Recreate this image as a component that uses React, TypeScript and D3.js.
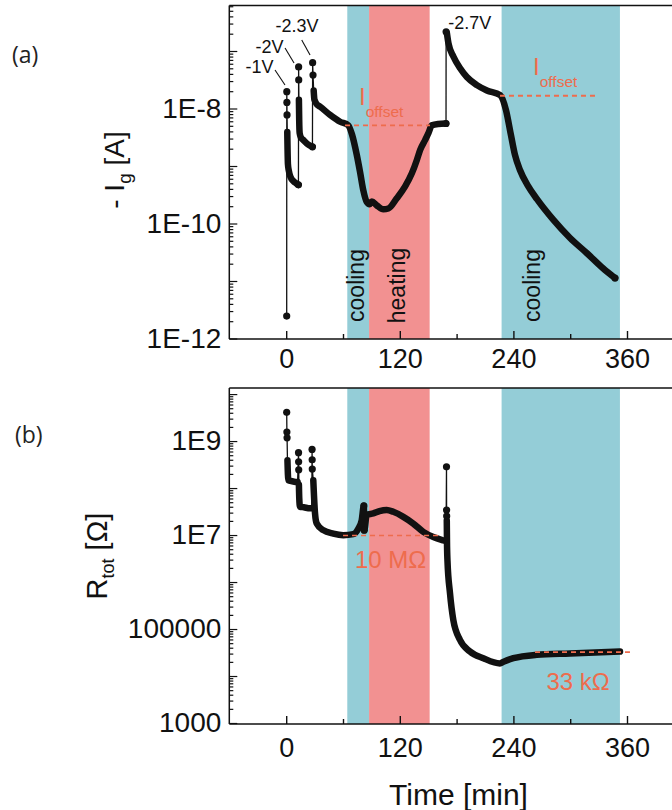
import React from 'react';
import * as d3 from 'd3';

// ---------------- data ----------------
const timeTicks = [0, 120, 240, 360];
const timeMinorTicks = [60, 180, 300];

const phaseLabels = ['cooling', 'heating', 'cooling'];
const phaseKinds = ['cool', 'heat', 'cool'];
const phaseStart = [64, 87, 227];
const phaseEnd = [87, 151, 352];

const igTickValues = [1e-12, 1e-10, 1e-8];
const igTickLabels = ['1E-12', '1E-10', '1E-8'];
const rTickValues = [1e3, 1e5, 1e7, 1e9];
const rTickLabels = ['1000', '100000', '1E7', '1E9'];

const voltageLabels = ['-1V', '-2V', '-2.3V', '-2.7V'];

// panel (a): -Ig [A] vs time [min]
const igStartT = [0];
const igStartV = [2.5e-12];
const ig1T = [0.1, 0.2, 0.35, 0.6, 0.9, 1.3, 2.2, 4, 7, 10, 12.4];
const ig1V = [2.0e-8, 1.3e-8, 7.9e-9, 4.0e-9, 2.0e-9, 1.1e-9, 8.5e-10, 6.6e-10, 5.6e-10, 5.1e-10, 4.8e-10];
const ig2T = [12.6, 12.7, 12.9, 13.2, 13.7, 15, 17.5, 22.8, 27.2];
const ig2V = [5.4e-8, 3.2e-8, 1.45e-8, 6.5e-9, 3.8e-9, 3.2e-9, 2.9e-9, 2.4e-9, 2.2e-9];
const ig3T = [27.4, 27.8, 28.5, 29.3, 32, 35.2, 45.8, 56.4, 65.1, 69, 74, 77.5, 81, 84.6, 87.5, 89.9, 95.2, 102.1, 107.4, 116.3, 125.1, 132.2, 137.5, 141, 146.3, 149.7, 153.3, 160, 168.3];
const ig3V = [6.4e-8, 3.9e-8, 2.1e-8, 1.45e-8, 1.2e-8, 1.1e-8, 7.9e-9, 6.0e-9, 5.2e-9, 3.6e-9, 1.6e-9, 8e-10, 3.8e-10, 2.4e-10, 2.2e-10, 2.45e-10, 2.1e-10, 1.8e-10, 1.86e-10, 2.8e-10, 4.5e-10, 7.6e-10, 1.3e-9, 1.95e-9, 2.9e-9, 3.8e-9, 5.2e-9, 5.5e-9, 5.6e-9];
const ig4T = [168.4, 169.2, 170.9, 176.2, 183.2, 190.3, 200.9, 211.5, 225.5, 231.6, 236.9, 241.1, 246.4, 254.9, 264.4, 281.3, 299.3, 317.2, 334.1, 346.8];
const ig4V = [2.2e-7, 2.1e-7, 1.38e-7, 8.1e-8, 5.1e-8, 3.6e-8, 2.6e-8, 2.1e-8, 1.74e-8, 9.6e-9, 3.5e-9, 1.6e-9, 8.7e-10, 4.6e-10, 2.7e-10, 1.2e-10, 5.7e-11, 3.1e-11, 1.7e-11, 1.15e-11];

const igOffsetValues = [5.2e-9, 1.7e-8];
const igOffsetStart = [61.6, 225.3];
const igOffsetEnd = [151.4, 325.7];

// panel (b): Rtot [Ohm] vs time [min]
const r1T = [0, 0.2, 0.4, 0.8, 1.7, 4, 8, 11.5];
const r1V = [4.2e9, 1.6e9, 1.2e9, 4e8, 1.5e8, 1.45e8, 1.4e8, 1.38e8];
const r2T = [12.5, 12.6, 12.7, 12.9, 13.3, 14, 18, 24.6, 26.5];
const r2V = [5.8e8, 3.7e8, 2.5e8, 1.2e8, 6e7, 4.1e7, 4e7, 3.8e7, 3.8e7];
const r3T = [26.8, 26.9, 27.0, 28.1, 29.9, 31.7, 38.7, 49.2, 59.8, 70.3, 75.6, 79.2, 81.5, 81.9, 84.5, 91.5, 98, 105.6, 112.6, 123.2, 133.7, 144.3, 154.9, 165.4, 168.3];
const r3V = [6.8e8, 4.1e8, 2.6e8, 1.5e8, 3e7, 1.8e7, 1.3e7, 1.1e7, 1.02e7, 1.07e7, 1.4e7, 2.1e7, 4.3e7, 1.3e7, 2.75e7, 2.95e7, 3.3e7, 3.5e7, 3.2e7, 2.5e7, 1.8e7, 1.2e7, 9.3e6, 7.9e6, 7.6e6];
const r4T = [168.8, 168.9, 169.0, 169.1, 169.3, 169.8, 172.5, 176, 183.1, 193.6, 207.7, 225.3, 228.8, 239.4, 264.1, 299.3, 352.1];
const r4V = [2.9e8, 3.5e7, 2.6e7, 2.1e7, 8e6, 3e6, 5.9e5, 1.6e5, 6e4, 3.4e4, 2.45e4, 1.9e4, 2.05e4, 2.45e4, 2.9e4, 3.1e4, 3.4e4];

const rRefValues = [1e7, 3.3e4];
const rRefLabels = ['10 MΩ', '33 kΩ'];
const rRefStart = [59.5, 262.3];
const rRefEnd = [161.9, 362.6];

// ---------------- drawing ----------------
const FONT = 'Liberation Sans, Arial, Helvetica, sans-serif';
const CYAN = '#94CDD7';
const PINK = '#F29191';
const RED = '#EE6C4D';

type Seg = { t: number[]; v: number[]; thickFrom: number; extraDots?: number[]; endDot?: boolean };

function logTicks(domain: number[]) {
  const [a, b] = domain;
  const out: { v: number; major: boolean }[] = [];
  for (let d = Math.floor(Math.log10(a)); d <= Math.ceil(Math.log10(b)); d++) {
    for (let m = 1; m <= 9; m++) {
      const v = m * Math.pow(10, d);
      if (v >= a * 0.999 && v <= b * 1.0001) out.push({ v, major: m === 1 });
    }
  }
  return out;
}

function Panel(props: {
  x: d3.ScaleLinear<number, number>;
  y: d3.ScaleLogarithmic<number, number>;
  top: number;
  bottom: number;
  left: number;
  right: number;
  segs: Seg[];
  pre?: { t: number[]; v: number[] };
  tickValues: number[];
  tickLabels: string[];
  tickLabelBaseline: number;
}) {
  const { x, y, top, bottom, left, right, segs, pre, tickValues, tickLabels, tickLabelBaseline } = props;
  const line = d3
    .line<[number, number]>()
    .x((d) => x(d[0]))
    .y((d) => y(d[1]));
  const smooth = d3
    .line<[number, number]>()
    .x((d) => x(d[0]))
    .y((d) => y(d[1]))
    .curve(d3.curveMonotoneX);
  const all: [number, number][] = [];
  if (pre) pre.t.forEach((t, i) => all.push([t, pre.v[i]]));
  segs.forEach((s) => s.t.forEach((t, i) => all.push([t, s.v[i]])));
  const dots: [number, number][] = [];
  if (pre) pre.t.forEach((t, i) => dots.push([t, pre.v[i]]));
  segs.forEach((s) => {
    for (let i = 0; i < s.thickFrom; i++) dots.push([s.t[i], s.v[i]]);
    if (s.endDot) dots.push([s.t[s.t.length - 1], s.v[s.v.length - 1]]);
    (s.extraDots || []).forEach((i) => dots.push([s.t[i], s.v[i]]));
  });
  const yt = logTicks(y.domain());
  return (
    <g>
      {phaseStart.map((s, i) => (
        <rect
          key={'ph' + i}
          x={x(s)}
          y={top}
          width={x(phaseEnd[i]) - x(s)}
          height={bottom - top}
          fill={phaseKinds[i] === 'cool' ? CYAN : PINK}
        />
      ))}
      <line x1={left} x2={right} y1={top} y2={top} stroke="#111" strokeWidth={1.5} />
      <line x1={left} x2={right} y1={bottom} y2={bottom} stroke="#111" strokeWidth={1.5} />
      <line x1={left} x2={left} y1={top} y2={bottom} stroke="#111" strokeWidth={1.5} />
      {yt.map((tk, i) => (
        <line
          key={'yt' + i}
          x1={left}
          x2={left + (tk.major ? 8 : 4)}
          y1={y(tk.v)}
          y2={y(tk.v)}
          stroke="#111"
          strokeWidth={1.2}
        />
      ))}
      {tickValues.map((v, i) => (
        <text key={'yl' + i} x={left - 8} y={y(v) + 8.5} textAnchor="end" fontSize={28} fontFamily={FONT} fill="#111">
          {tickLabels[i]}
        </text>
      ))}
      {timeTicks.map((t) => (
        <line key={'xt' + t} x1={x(t)} x2={x(t)} y1={bottom} y2={bottom - 8} stroke="#111" strokeWidth={1.4} />
      ))}
      {timeMinorTicks.map((t) => (
        <line key={'xm' + t} x1={x(t)} x2={x(t)} y1={bottom} y2={bottom - 5} stroke="#111" strokeWidth={1.4} />
      ))}
      {timeTicks.map((t) => (
        <text key={'xl' + t} x={x(t)} y={tickLabelBaseline} textAnchor="middle" fontSize={27} fontFamily={FONT} fill="#111">
          {t}
        </text>
      ))}
      <path d={line(all) || ''} fill="none" stroke="#111" strokeWidth={1.3} />
      {segs.map((s, k) => {
        const pts: [number, number][] = s.t.slice(s.thickFrom).map((t, i) => [t, s.v[i + s.thickFrom]]);
        return (
          <path
            key={'th' + k}
            d={smooth(pts) || ''}
            fill="none"
            stroke="#111"
            strokeWidth={6.5}
            strokeLinejoin="round"
            strokeLinecap="round"
          />
        );
      })}
      {dots.map((d, i) => (
        <circle key={'d' + i} cx={x(d[0])} cy={y(d[1])} r={3.6} fill="#111" />
      ))}
    </g>
  );
}

export default function App() {
  const x = d3.scaleLinear().domain([0, 360]).range([286.7, 627.5]);
  const left = 229.3;
  const right = 672;
  const aTop = 5.5;
  const aBot = 339;
  const bTop = 388;
  const bBot = 724;
  const yA = d3.scaleLog().domain([1e-12, Math.pow(10, -6.2)]).range([aBot, aTop]);
  const yB = d3.scaleLog().domain([1e3, Math.pow(10, 10.14)]).range([723.5, bTop]);

  const igSegs: Seg[] = [
    { t: ig1T, v: ig1V, thickFrom: 3, endDot: true },
    { t: ig2T, v: ig2V, thickFrom: 2, endDot: true },
    { t: ig3T, v: ig3V, thickFrom: 2, endDot: true },
    { t: ig4T, v: ig4V, thickFrom: 1, endDot: true },
  ];
  const rSegs: Seg[] = [
    { t: r1T, v: r1V, thickFrom: 3 },
    { t: r2T, v: r2V, thickFrom: 3 },
    { t: r3T, v: r3V, thickFrom: 3, extraDots: [12, 13] },
    { t: r4T, v: r4V, thickFrom: 3 },
  ];

  const spikes = igSegs.map((s) => [x(s.t[0]), yA(s.v[0])]);
  const vLabelPos = [
    { dx: -13.3, dy: -18.2, anchor: 'end', l: [-11.8, -21.7, -1.8, -6.7] },
    { dx: -15.1, dy: -13.9, anchor: 'end', l: [-13.6, -18.9, -4.6, -3.9] },
    { dx: 5.9, dy: -30.9, anchor: 'end', l: [-10.9, -22.6, -2.6, -7.6] },
    { dx: 2.2, dy: -3.3, anchor: 'start', l: null as null | number[] },
  ];

  const phaseLabelX = [
    (x(phaseStart[0]) + x(phaseEnd[0])) / 2 + 6,
    (x(phaseStart[1]) + x(phaseEnd[1])) / 2 + 5.5,
    x(phaseStart[2]) + 38,
  ];

  return (
    <svg width={672} height={810} style={{ position: 'absolute', left: 0, top: 0, background: '#fff' }}>
      <rect x={0} y={0} width={672} height={810} fill="#fff" />
      <Panel
        x={x}
        y={yA}
        top={aTop}
        bottom={aBot}
        left={left}
        right={right}
        segs={igSegs}
        pre={{ t: igStartT, v: igStartV }}
        tickValues={igTickValues}
        tickLabels={igTickLabels}
        tickLabelBaseline={368}
      />
      {igOffsetValues.map((v, i) => (
        <line
          key={'io' + i}
          x1={x(igOffsetStart[i])}
          x2={x(igOffsetEnd[i])}
          y1={yA(v)}
          y2={yA(v)}
          stroke={RED}
          strokeWidth={1.8}
          strokeDasharray="5,4"
        />
      ))}
      <text x={359} y={105} fontSize={24} fontFamily={FONT} fill={RED}>
        I<tspan dy={11.7} fontSize={15.5}>offset</tspan>
      </text>
      <text x={533} y={75} fontSize={24} fontFamily={FONT} fill={RED}>
        I<tspan dy={12} fontSize={15.5}>offset</tspan>
      </text>
      {voltageLabels.map((lab, i) => {
        const [sx, sy] = spikes[i];
        const p = vLabelPos[i];
        return (
          <g key={'vl' + i}>
            <text
              x={sx + p.dx}
              y={sy + p.dy}
              textAnchor={p.anchor as any}
              fontSize={18}
              fontFamily={FONT}
              fill="#111"
            >
              {lab}
            </text>
            {p.l && (
              <line x1={sx + p.l[0]} y1={sy + p.l[1]} x2={sx + p.l[2]} y2={sy + p.l[3]} stroke="#111" strokeWidth={1.1} />
            )}
          </g>
        );
      })}
      {phaseLabels.map((lab, i) => (
        <text
          key={'pl' + i}
          transform={`translate(${phaseLabelX[i]},285.5) rotate(-90)`}
          textAnchor="middle"
          fontSize={23}
          fontFamily={FONT}
          fill="#111"
        >
          {lab}
        </text>
      ))}
      <text transform="translate(124,170) rotate(-90)" textAnchor="middle" fontSize={28} fontFamily={FONT} fill="#111">
        - I<tspan dy={7} fontSize={19}>g</tspan>
        <tspan dy={-7}> [A]</tspan>
      </text>
      <text x={12} y={63} fontSize={23} fontFamily="Open Sans, Noto Sans, sans-serif" fill="#222">
        (a)
      </text>

      <Panel
        x={x}
        y={yB}
        top={bTop}
        bottom={bBot}
        left={left}
        right={right}
        segs={rSegs}
        tickValues={rTickValues}
        tickLabels={rTickLabels}
        tickLabelBaseline={757}
      />
      {rRefValues.map((v, i) => (
        <line
          key={'rr' + i}
          x1={x(rRefStart[i])}
          x2={x(rRefEnd[i])}
          y1={yB(v)}
          y2={yB(v)}
          stroke={RED}
          strokeWidth={1.6}
          strokeDasharray="5,4"
        />
      ))}
      <text x={355} y={568} fontSize={24} fontFamily={FONT} fill={RED}>
        {rRefLabels[0]}
      </text>
      <text x={546.5} y={690} fontSize={24} fontFamily={FONT} fill={RED}>
        {rRefLabels[1]}
      </text>
      <text transform="translate(107,556) rotate(-90)" textAnchor="middle" fontSize={29} fontFamily={FONT} fill="#111">
        R<tspan dy={7} fontSize={18}>tot</tspan>
        <tspan dy={-7}> [Ω]</tspan>
      </text>
      <text x={15} y={443} fontSize={23} fontFamily="Open Sans, Noto Sans, sans-serif" fill="#222">
        (b)
      </text>
      <text x={458.5} y={805} textAnchor="middle" fontSize={30} fontFamily={FONT} fill="#111">
        Time [min]
      </text>
    </svg>
  );
}
